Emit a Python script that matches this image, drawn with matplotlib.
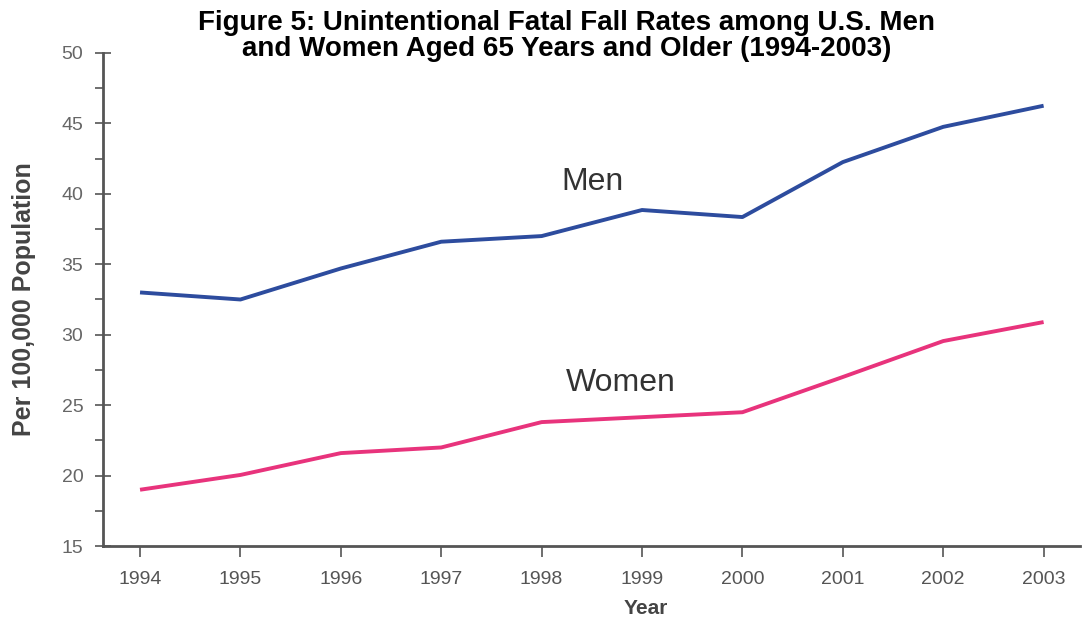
import matplotlib.pyplot as plt
import numpy as np
from matplotlib.ticker import MultipleLocator

years = [1994, 1995, 1996, 1997, 1998, 1999, 2000, 2001, 2002, 2003]
men = [33.0, 32.5, 34.7, 36.6, 37.0, 38.85, 38.35, 42.25, 44.75, 46.25]
women = [19.0, 20.05, 21.6, 22.0, 23.8, 24.15, 24.5, 27.0, 29.55, 30.9]

plt.rcParams['font.family'] = ['Liberation Sans', 'DejaVu Sans']

fig = plt.figure(figsize=(10.83, 6.22), dpi=100)
ax = fig.add_axes([0.095, 0.122, 0.902, 0.793])

ax.plot(years, men, color='#2d4c9e', lw=2.8, solid_capstyle='butt')
ax.plot(years, women, color='#e8337c', lw=2.8, solid_capstyle='butt')

# series labels
ax.text(1998.51, 40.85, 'Men', fontsize=23, color='#333333', ha='center', va='center')
ax.text(1998.79, 26.55, 'Women', fontsize=23, color='#333333', ha='center', va='center')

ax.set_xlim(1993.63, 2003.36)
ax.set_ylim(15, 50)
ax.set_xticks(years)
ax.yaxis.set_major_locator(MultipleLocator(5))
ax.yaxis.set_minor_locator(MultipleLocator(2.5))

for s in ['top', 'right']:
    ax.spines[s].set_visible(False)
for s in ['left', 'bottom']:
    ax.spines[s].set_color('#555555')
    ax.spines[s].set_linewidth(2)

ax.tick_params(axis='y', which='major', direction='inout', length=12, width=1.2,
               color='#555555', labelcolor='#666666', labelsize=14, pad=8)
ax.tick_params(axis='y', which='minor', direction='out', length=6, width=1.2, color='#555555')
ax.tick_params(axis='x', direction='out', length=8, width=1.2, color='#555555',
               labelcolor='#555555', labelsize=14, pad=10)

ax.set_xlabel('Year', fontsize=15, fontweight='bold', color='#444444')
ax.xaxis.set_label_coords(0.556, -0.108)
ax.set_ylabel('Per 100,000 Population', fontsize=18, fontweight='bold', color='#444444')
ax.yaxis.set_label_coords(-0.068, 0.5)

fig.text(0.523, 0.942, 'Figure 5: Unintentional Fatal Fall Rates among U.S. Men\n'
         'and Women Aged 65 Years and Older (1994-2003)',
         ha='center', va='center', fontsize=20, fontweight='bold', linespacing=1.0)

fig.savefig('out.png', dpi=100)
